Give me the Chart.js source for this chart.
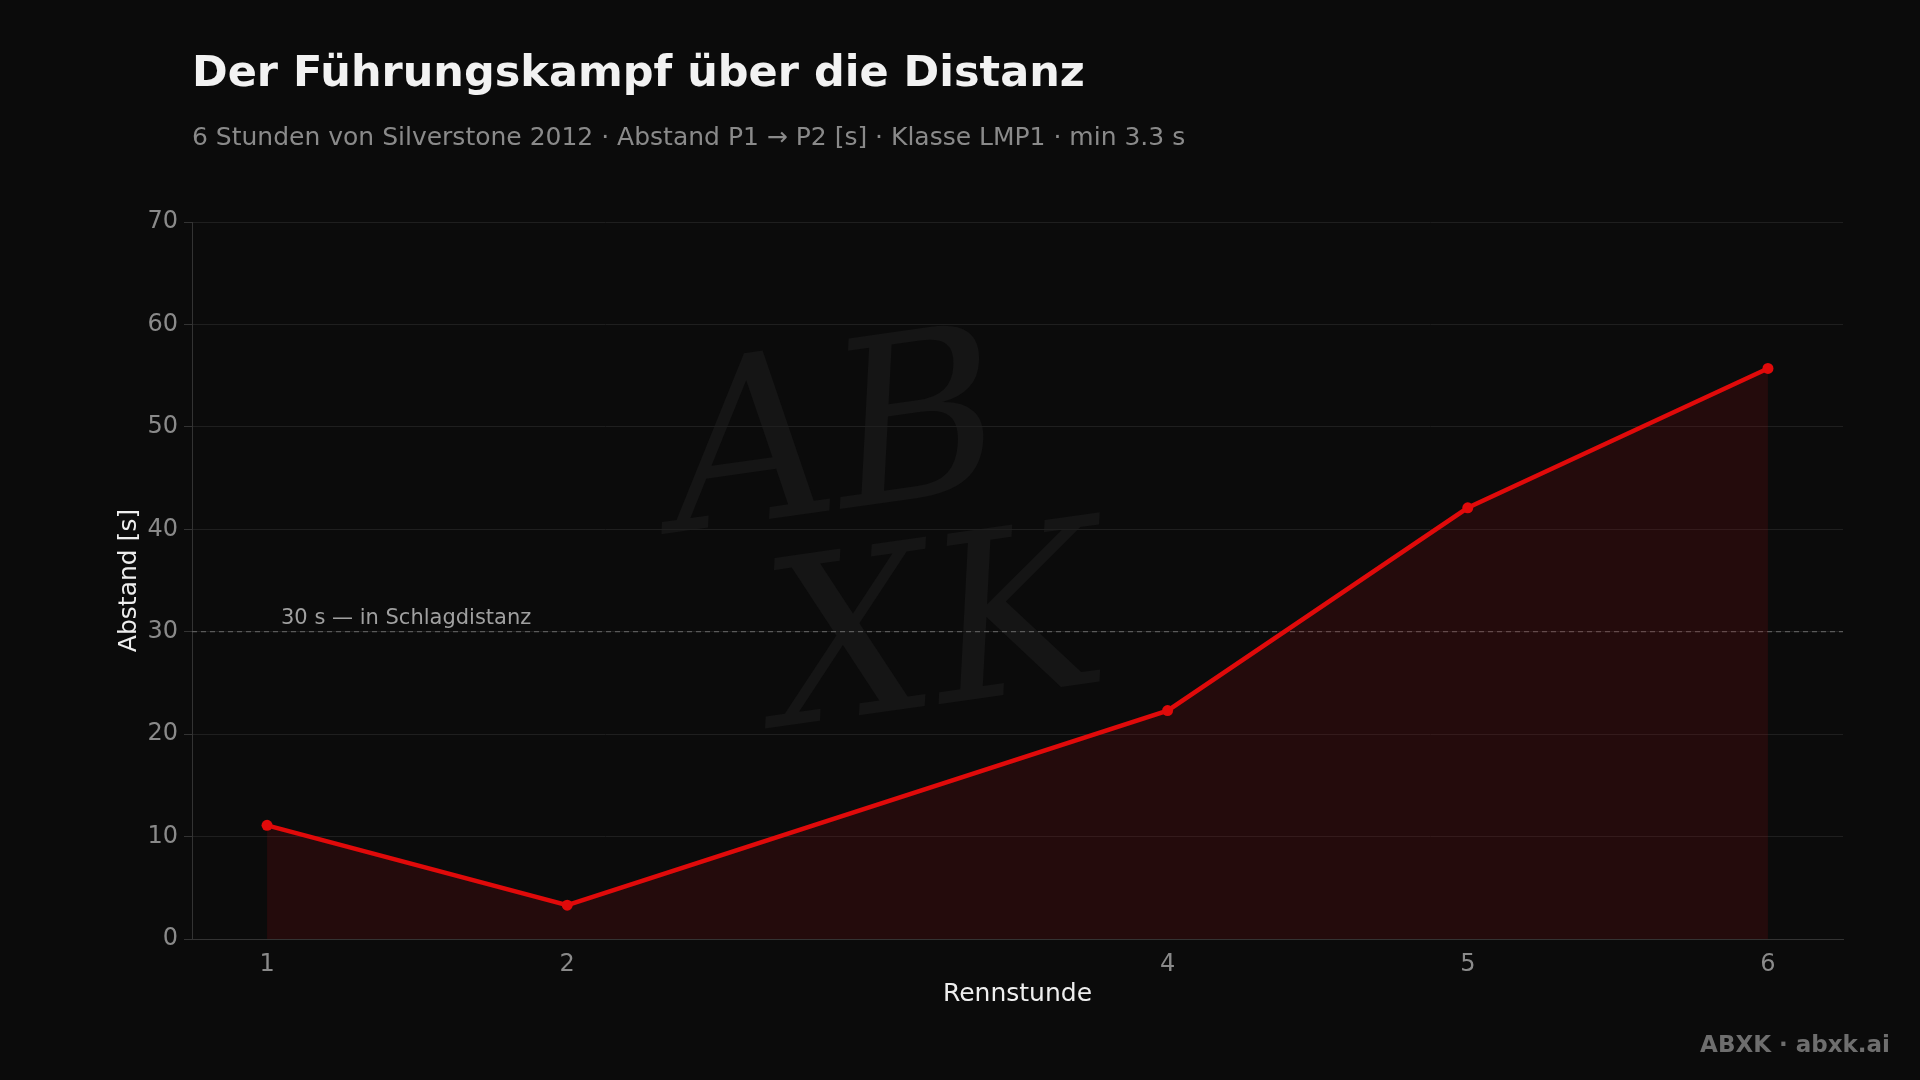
<!DOCTYPE html>
<html>
<head>
<meta charset="utf-8">
<script src="https://cdn.jsdelivr.net/npm/chart.js@4"></script>
<style>
  body { margin: 0; background: #0b0b0b; width: 1920px; height: 1080px; overflow: hidden; font-family: "DejaVu Sans", sans-serif; }
  #wrap { position: relative; width: 1920px; height: 1080px; }
  canvas { position: absolute; left: 0; top: 0; }
  .title { position: absolute; left: 192px; top: 46px; color: #f2f2f2; font-size: 43px; font-weight: bold; }
  .subtitle { position: absolute; left: 192px; top: 122px; color: #8a8a8a; font-size: 25px; }
  .footer { position: absolute; right: 30px; top: 1031px; color: #6e6e6e; font-size: 23px; font-weight: bold; }
  .mark { position: absolute; left: 680px; top: 320px; color: #151515; font-size: 230px; font-style: italic; font-family: "DejaVu Serif", serif; line-height: 0.9; transform: rotate(-8deg); }
</style>
</head>
<body>
<div id="wrap">
  <div class="mark">AB<br>&nbsp;XK</div>
  <canvas id="chart" width="1920" height="1080"></canvas>
  <div class="title">Der Führungskampf über die Distanz</div>
  <div class="subtitle">6 Stunden von Silverstone 2012 · Abstand P1 → P2 [s] · Klasse LMP1 · min 3.3 s</div>
  <div class="footer">ABXK · abxk.ai</div>
</div>
<script>
const hours = [1, 2, 4, 5, 6];
const gaps = [11.1, 3.3, 22.3, 42.1, 55.7];
const yTicks = [0, 10, 20, 30, 40, 50, 60, 70];
const refValue = 30;
const refLabel = "30 s — in Schlagdistanz";

Chart.defaults.font.family = "'DejaVu Sans', sans-serif";

const refLine = {
  id: "refLine",
  beforeDatasetsDraw(chart) {
    const ctx = chart.ctx;
    const area = chart.chartArea;
    const y = chart.scales.y.getPixelForValue(refValue);
    ctx.save();
    ctx.strokeStyle = "#5a5a5a";
    ctx.lineWidth = 1.2;
    ctx.setLineDash([5, 4]);
    ctx.beginPath();
    ctx.moveTo(area.left, y);
    ctx.lineTo(area.right, y);
    ctx.stroke();
    ctx.setLineDash([]);
    ctx.fillStyle = "#a0a0a0";
    ctx.font = "21px 'DejaVu Sans'";
    ctx.textBaseline = "bottom";
    ctx.fillText(refLabel, 281, y - 3);
    ctx.restore();
  }
};

new Chart(document.getElementById("chart"), {
  type: "line",
  data: {
    datasets: [{
      data: hours.map((h, i) => ({ x: h, y: gaps[i] })),
      borderColor: "#e00a0a",
      borderWidth: 4.5,
      backgroundColor: "rgba(150, 10, 15, 0.18)",
      fill: "origin",
      pointRadius: 5.5,
      pointBackgroundColor: "#e00a0a",
      pointBorderWidth: 0,
      tension: 0
    }]
  },
  options: {
    responsive: false,
    animation: false,
    layout: { padding: { left: 110, top: 222, right: 77, bottom: 67 } },
    plugins: { legend: { display: false }, tooltip: { enabled: false } },
    scales: {
      x: {
        type: "linear",
        min: 0.75,
        max: 6.25,
        afterBuildTicks: (s) => { s.ticks = hours.map(v => ({ value: v })); },
        afterFit: (s) => { s.height = 74; },
        ticks: { color: "#8a8a8a", font: { size: 24 }, padding: 3 },
        grid: { display: false },
        border: { color: "#333" },
        title: { display: true, text: "Rennstunde", color: "#eeeeee", font: { size: 25 } }
      },
      y: {
        min: 0,
        max: 70,
        afterBuildTicks: (s) => { s.ticks = yTicks.map(v => ({ value: v })); },
        afterFit: (s) => { s.width = 82; },
        ticks: { color: "#8a8a8a", font: { size: 24 }, padding: 6 },
        grid: { color: "#1f1f1f", tickColor: "#333" },
        border: { color: "#333" },
        title: { display: true, text: "Abstand [s]", color: "#eeeeee", font: { size: 25 } }
      }
    }
  },
  plugins: [refLine]
});
</script>
</body>
</html>
